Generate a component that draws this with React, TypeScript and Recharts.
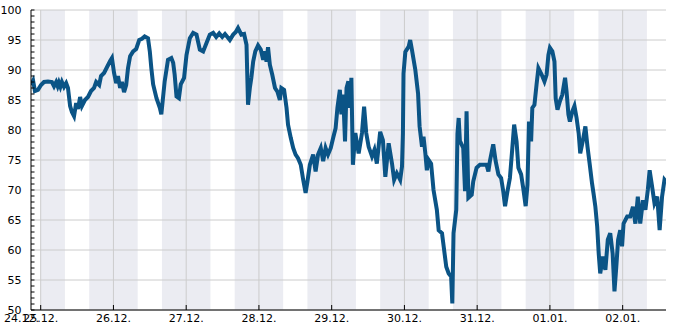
import { LineChart, Line, XAxis, YAxis, ReferenceArea, ReferenceLine } from "recharts";

// hours since 25.12. 00:00
const hours = [
  -3.2, -2.5, -1.9, -0.9, 0.1, 1.1, 2.4, 3.7, 4.4, 5.1, 5.6, 6.0, 6.5, 7.0, 7.7, 8.4, 9.0, 9.7, 10.3, 11.0,
  11.7, 12.3, 13.0, 13.6, 14.6, 15.6, 16.6, 17.6, 18.3, 19.3, 19.9, 20.9, 21.9, 22.9, 23.5, 24.2, 24.9, 25.5,
  26.2, 26.8, 27.5, 28.2, 28.8, 29.5, 30.5, 31.5, 32.5, 33.4, 34.3, 35.4, 36.0, 36.5, 37.1, 38.2, 39.3, 39.8,
  40.9, 42.0, 43.1, 43.7, 44.2, 44.8, 45.6, 46.2, 47.3, 48.1, 49.2, 50.3, 51.4, 52.5, 53.6, 54.7, 55.8, 56.9,
  57.9, 58.9, 59.9, 60.8, 62.4, 63.5, 64.3, 65.1, 66.2, 67.1, 67.9, 68.4, 69.0, 69.5, 70.1, 70.8, 71.7, 72.6,
  73.4, 74.0, 74.5, 75.0, 75.6, 76.4, 77.3, 78.1, 78.9, 79.4, 80.3, 81.1, 81.6, 82.5, 83.3, 84.1, 84.9, 85.8,
  86.6, 87.4, 88.0, 88.8, 89.9, 90.7, 91.5, 92.4, 93.2, 94.0, 94.8, 95.7, 96.5, 97.3, 97.9, 98.7, 99.2, 99.8,
  100.4, 100.9, 101.5, 102.0, 102.5, 103.0, 103.8, 104.9, 106.0, 106.7, 107.4, 108.2, 109.3, 110.1, 110.9,
  112.0, 112.9, 113.7, 114.8, 115.9, 116.6, 117.5, 118.6, 119.2, 119.5, 119.7, 120.3, 121.4, 121.9, 122.5,
  123.6, 124.5, 125.0, 125.8, 126.3, 126.9, 127.4, 128.0, 128.8, 129.6, 130.7, 131.3, 132.4, 133.1, 133.8,
  134.6, 135.4, 135.8, 136.2, 137.1, 137.5, 137.9, 138.3, 139.4, 140.0, 140.5, 141.1, 142.2, 142.7, 143.8,
  144.9, 146.0, 147.1, 147.7, 148.2, 149.3, 150.1, 151.0, 151.9, 152.6, 153.2, 154.0, 154.8, 155.6, 156.2,
  157.0, 157.6, 158.5, 159.2, 160.0, 160.6, 161.1, 161.8, 162.2, 162.9, 163.6, 164.2, 165.3, 166.2, 166.9,
  167.5, 168.0, 168.8, 169.5, 169.9, 170.5, 171.3, 172.1, 173.0, 173.5, 174.1, 174.6, 175.4, 176.1, 176.8,
  177.5, 178.0, 178.9, 179.7, 180.4, 181.1, 181.9, 182.4, 183.0, 183.6, 184.1, 184.6, 185.5, 186.3, 187.1,
  187.9, 188.7, 189.3, 189.9, 190.5, 191.2, 191.8, 192.3, 193.5, 194.5, 195.4, 196.2, 197.0, 197.8, 198.7,
  199.5, 200.3, 200.9, 201.7, 202.5, 203.4, 204.2, 205.0, 205.8, 206.3,
];

const values = [
  87.5, 88.2, 86.5, 86.7, 87.5, 88.0, 88.1, 88.0, 87.3, 88.0, 87.3, 87.9, 87.2, 88.0, 87.2, 87.8, 87.0, 84.0,
  83.0, 82.3, 84.5, 83.5, 85.5, 84.0, 85.0, 85.5, 86.5, 87.0, 88.0, 87.5, 89.0, 89.5, 90.5, 91.5, 92.0, 89.5,
  87.8, 89.0, 87.0, 88.0, 86.3, 87.5, 90.3, 92.3, 93.1, 93.5, 95.0, 95.2, 95.6, 95.3, 93.1, 90.3, 87.6, 85.3,
  83.7, 82.6, 88.1, 91.7, 92.0, 91.2, 89.2, 85.6, 85.3, 87.6, 88.7, 92.5, 95.3, 96.2, 95.9, 93.4, 93.1, 94.5,
  95.9, 96.2, 95.5, 96.1, 95.5, 96.0, 95.0, 95.9, 96.3, 97.0, 95.9, 96.0, 94.2, 84.2, 87.0, 88.7, 91.4, 93.1,
  94.1, 93.4, 91.7, 93.1, 91.4, 93.8, 90.9, 89.2, 87.0, 86.4, 85.0, 87.0, 86.7, 83.7, 80.9, 78.7, 77.0, 75.9,
  75.3, 74.2, 71.7, 69.5, 71.4, 74.2, 75.9, 73.1, 75.9, 77.0, 74.8, 77.0, 75.9, 77.0, 78.7, 80.3, 83.7, 86.7,
  82.6, 85.9, 78.1, 87.0, 88.1, 83.7, 88.7, 74.2, 79.5, 76.1, 79.5, 83.9, 79.5, 77.2, 75.6, 76.7, 74.4, 79.7,
  78.3, 72.2, 77.8, 74.4, 71.7, 72.8, 71.7, 73.9, 79.4, 89.4, 93.0, 93.9, 95.0, 93.3, 90.0, 86.1, 80.6, 77.2,
  78.9, 76.1, 73.3, 75.0, 74.4, 70.0, 66.7, 63.3, 62.8, 60.0, 57.2, 56.1, 55.6, 51.1, 62.8, 66.7, 79.4, 82.0,
  78.2, 77.0, 69.8, 83.1, 68.7, 69.2, 71.4, 73.7, 74.2, 74.2, 74.2, 73.1, 74.8, 77.6, 74.8, 72.6, 72.0, 69.8,
  67.3, 69.8, 72.0, 77.0, 80.9, 78.1, 73.7, 72.6, 70.3, 67.3, 70.9, 81.4, 78.1, 83.7, 84.2, 87.6, 90.3, 89.2,
  88.1, 89.2, 92.5, 93.7, 93.1, 91.4, 85.3, 83.4, 84.8, 85.9, 88.7, 86.4, 82.6, 81.4, 83.1, 84.0, 82.0, 79.4,
  76.1, 78.3, 80.6, 77.2, 74.4, 71.1, 69.4, 67.2, 63.9, 59.4, 56.1, 58.9, 56.7, 61.7, 62.8, 59.4, 53.1, 57.2,
  61.7, 63.3, 60.6, 64.4, 65.6, 65.6, 67.2, 64.4, 68.9, 64.4, 68.3, 66.7, 70.0, 73.3, 70.6, 67.8, 68.9, 63.3,
  68.9, 71.7, 71.4,
];

// day ticks (hours since 25.12. 00:00) and their labels
const dayTicks = [0, 24, 48, 72, 96, 120, 144, 168, 192];
const dayLabels = ["25.12.", "26.12.", "27.12.", "28.12.", "29.12.", "30.12.", "31.12.", "01.01.", "02.01."];
const startHour = -3.2;
const endHour = 206.3;
const startLabel = "24.12.";

// shaded periods (16:00 - 08:00)
const bandStarts = [0, 16, 40, 64, 88, 112, 136, 160, 184];
const bandEnds = [8, 32, 56, 80, 104, 128, 152, 176, 200];

const yTicks = Array.from({ length: 51 }, (_, i) => 50 + i);
const yGrid = [50, 55, 60, 65, 70, 75, 80, 85, 90, 95, 100];

const data = hours.map((h, i) => ({ h, v: values[i] }));

const FONT = "DejaVu Sans, sans-serif";

function XTick({ x, y, payload }: any) {
  const v = payload.value;
  if (v === startHour) {
    return (
      <text x={x - 9.5} y={y + 12} textAnchor="middle" fontSize={11} fontFamily={FONT} fill="#000">
        {startLabel}
      </text>
    );
  }
  const idx = dayTicks.indexOf(v);
  return (
    <g>
      <line x1={x} x2={x} y1={y} y2={y - 5} stroke="#000" strokeWidth={1} />
      <text x={x} y={y + 12} textAnchor="middle" fontSize={11} fontFamily={FONT} fill="#000">
        {dayLabels[idx]}
      </text>
    </g>
  );
}

function YTick({ x, y, payload }: any) {
  const v = payload.value;
  const major = v % 5 === 0;
  return (
    <g>
      <line x1={x} x2={x + 3.5} y1={y} y2={y} stroke="#000" strokeWidth={1} />
      {major && (
        <text x={x - 9.5} y={y + 3.5} textAnchor="end" fontSize={11} fontFamily={FONT} fill="#000">
          {v}
        </text>
      )}
    </g>
  );
}

export default function App() {
  return (
    <div style={{ position: "absolute", left: 0, top: 0, background: "#fff" }}>
      <LineChart width={685} height={330} data={data} margin={{ top: 10, right: 19, bottom: 0, left: 0 }}>
        {bandStarts.map((s, i) => (
          <ReferenceArea key={"b" + i} x1={s} x2={bandEnds[i]} fill="#ebecf2" fillOpacity={1} stroke="none" />
        ))}
        {yGrid.map((g) => (
          <ReferenceLine key={"y" + g} y={g} stroke="#cccccc" strokeWidth={1} />
        ))}
        {dayTicks.map((d) => (
          <ReferenceLine key={"x" + d} x={d} stroke="#cccccc" strokeWidth={1} />
        ))}
        <XAxis
          dataKey="h"
          type="number"
          domain={[startHour, endHour]}
          ticks={[startHour, ...dayTicks]}
          interval={0}
          allowDataOverflow
          height={20}
          tickSize={0}
          tickMargin={0}
          tickLine={false}
          axisLine={{ stroke: "#000" }}
          tick={<XTick />}
        />
        <YAxis
          type="number"
          domain={[50, 100]}
          ticks={yTicks}
          interval={0}
          allowDataOverflow
          width={31}
          tickSize={0}
          tickMargin={0}
          tickLine={false}
          axisLine={{ stroke: "#000" }}
          tick={<YTick />}
        />
        <Line
          type="linear"
          dataKey="v"
          stroke="#0b5486"
          strokeWidth={4}
          dot={false}
          isAnimationActive={false}
        />
      </LineChart>
    </div>
  );
}
